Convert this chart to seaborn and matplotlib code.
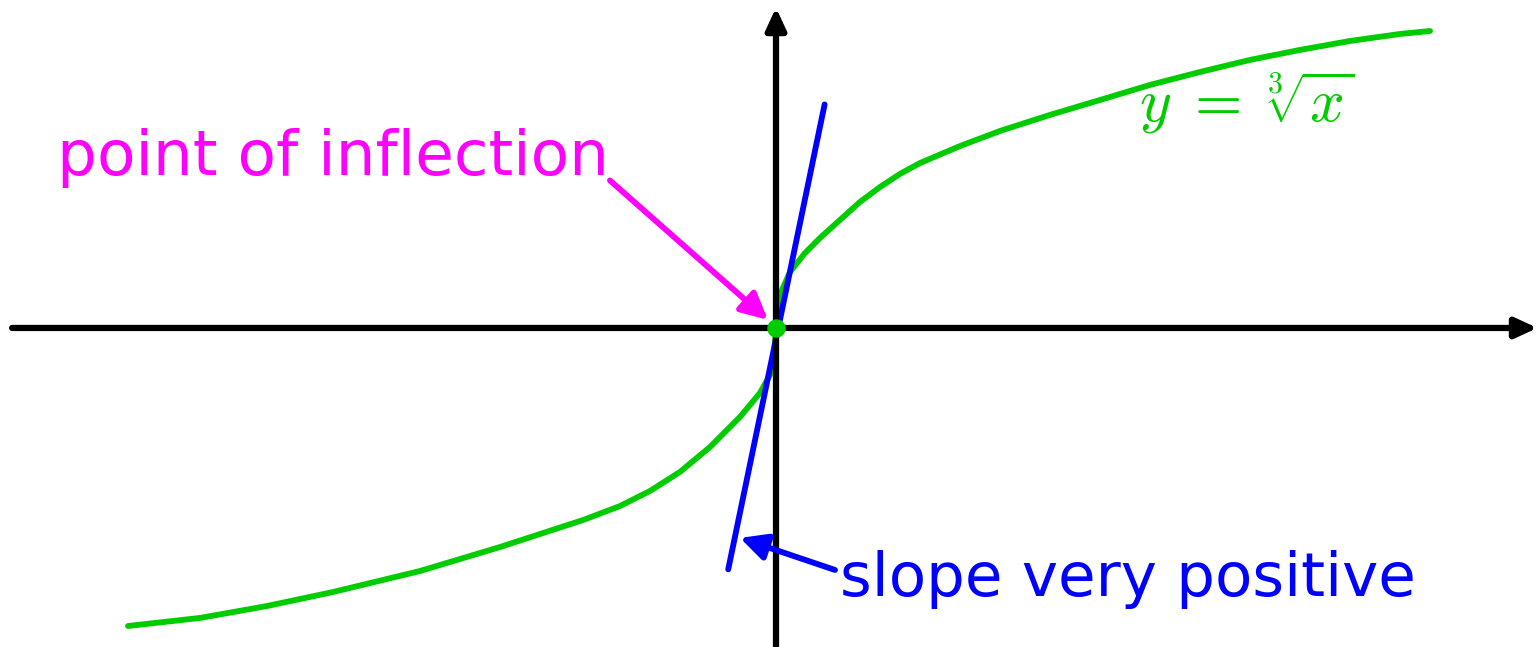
import numpy as np
import pandas as pd
import seaborn as sns
import matplotlib.pyplot as plt

# puntos de la curva y = raiz cubica de x
curva_x = [-8.000, -7.111, -6.284, -5.469, -4.395, -3.407, -2.383, -1.926, -1.556, -1.185,
           -0.815, -0.444, -0.198, -0.074, -0.025, 0.0, 0.025, 0.074, 0.173, 0.358, 0.543,
           0.790, 1.037, 1.284, 1.531, 1.778, 2.272, 2.765, 3.383, 4.000, 4.617, 5.235,
           5.852, 6.469, 7.086, 7.704, 8.074]
curva_y = [-2.000, -1.946, -1.866, -1.772, -1.631, -1.470, -1.289, -1.195, -1.094, -0.966,
           -0.799, -0.597, -0.436, -0.315, -0.181, 0.0, 0.154, 0.255, 0.376, 0.503, 0.604,
           0.725, 0.846, 0.946, 1.034, 1.107, 1.221, 1.322, 1.430, 1.530, 1.631, 1.718,
           1.799, 1.866, 1.926, 1.973, 1.993]

# recta tangente en el punto de inflexion
tangente_x = [-0.59, 0.60]
tangente_y = [-1.62, 1.50]

# punto de inflexion
punto_x = [0.0]
punto_y = [0.0]

etiqueta_inflexion = 'point of inflection'
etiqueta_pendiente = 'slope very positive'
etiqueta_funcion = r'$y\;=\;\sqrt[3]{x}$'

verde = '#00CC00'
magenta = '#FF00FF'
azul = '#0000FF'

sns.set_style('white')
plt.rcParams['font.family'] = ['DejaVu Sans']
plt.rcParams['mathtext.fontset'] = 'cm'

fig = plt.figure(figsize=(15.38, 6.47), dpi=100)
ax = fig.add_axes([0, 0, 1, 1])
ax.set_xlim(-9.580, 9.407)
ax.set_ylim(-2.141, 2.201)
ax.axis('off')

# ejes con flechas
ejes = dict(arrowstyle='-|>,head_length=1.3,head_width=0.6', lw=4.5, color='black',
            mutation_scale=10, shrinkA=0, shrinkB=0)
ax.annotate('', xy=(9.40, 0), xytext=(-9.43, 0), arrowprops=ejes, annotation_clip=False)
ax.annotate('', xy=(0, 2.15), xytext=(0, -2.2), arrowprops=ejes, annotation_clip=False)

# curva y tangente
df = pd.DataFrame({'x': curva_x, 'y': curva_y})
sns.lineplot(data=df, x='x', y='y', color=verde, lw=4.2, estimator=None, sort=False, ax=ax,
             solid_joinstyle='round')
sns.lineplot(x=tangente_x, y=tangente_y, color=azul, lw=4.2, estimator=None, ax=ax)
ax.scatter(punto_x, punto_y, s=150, color=verde, zorder=5)

# anotaciones
ax.annotate('', xy=(-0.10, 0.054), xytext=(-2.05, 0.99),
            arrowprops=dict(arrowstyle='-|>,head_length=1.6,head_width=0.8', lw=4.2,
                            color=magenta, mutation_scale=10, shrinkA=0, shrinkB=0))
ax.text(-8.88, 1.027, etiqueta_inflexion, color=magenta, fontsize=45.3,
        va='baseline', ha='left')

ax.annotate('', xy=(-0.444, -1.409), xytext=(0.728, -1.624),
            arrowprops=dict(arrowstyle='-|>,head_length=1.6,head_width=0.8', lw=4.2,
                            color=azul, mutation_scale=10, shrinkA=0, shrinkB=0))
ax.text(0.79, -1.80, etiqueta_pendiente, color=azul, fontsize=44,
        va='baseline', ha='left')

ax.text(5.81, 1.513, etiqueta_funcion, color=verde, fontsize=44, va='center', ha='center')

plt.savefig('out.png', dpi=100)
